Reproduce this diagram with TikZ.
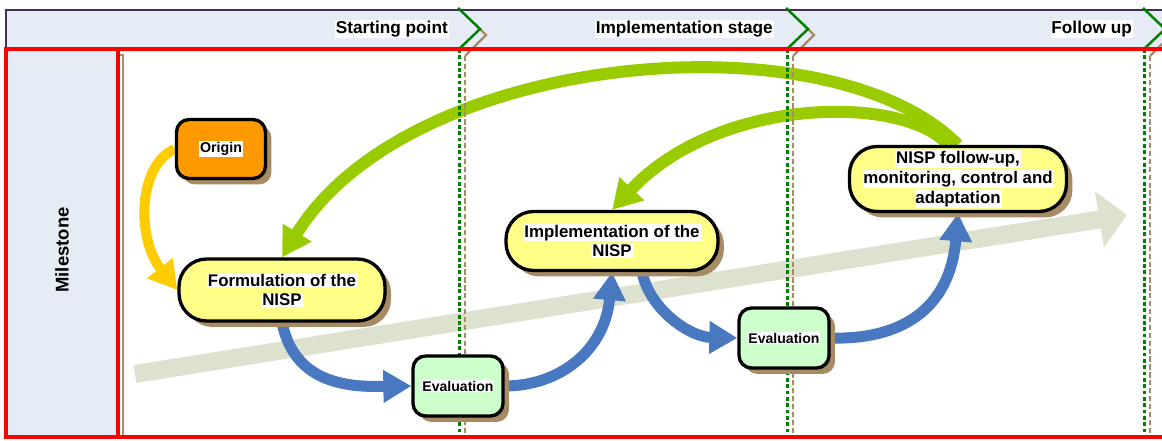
\documentclass[tikz,border=0pt]{standalone}
\usepackage{fontspec}
\setmainfont{Liberation Sans}
\usetikzlibrary{arrows.meta,shadows}

\definecolor{lanefill}{RGB}{230,236,246}
\definecolor{headline}{RGB}{64,49,81}
\definecolor{shadowbrown}{RGB}{166,139,101}
\definecolor{orangefill}{RGB}{255,153,0}
\definecolor{notefill}{RGB}{255,255,136}
\definecolor{evalfill}{RGB}{204,255,204}
\definecolor{loopgreen}{RGB}{153,204,0}
\definecolor{stepblue}{RGB}{72,120,192}
\definecolor{startyellow}{RGB}{255,204,0}
\definecolor{trendgrey}{RGB}{221,226,206}
\definecolor{phasegreen}{RGB}{0,128,0}

\newcommand{\hl}[1]{{\setlength{\fboxsep}{0.5pt}\colorbox{white}{#1}}}

\pgfdeclarelayer{frame}
\pgfdeclarelayer{links}
\pgfdeclarelayer{guides}
\pgfsetlayers{frame,links,guides,main}

\begin{document}
\begin{tikzpicture}[x=0.02cm, y=-0.02cm,
  box/.style={rectangle, draw=black, line width=1.9pt, align=center, inner sep=2pt,
    general shadow={fill=shadowbrown, shadow xshift=3.4pt, shadow yshift=-3.4pt}},
  stagebox/.style={box, fill=notefill, rounded corners=0.55cm, font=\fontsize{9.6}{11.3}\selectfont\bfseries},
  evalbox/.style={box, fill=evalfill, rounded corners=0.25cm, minimum width=1.8cm, minimum height=1.2cm, font=\fontsize{8}{9.6}\selectfont\bfseries},
  originbox/.style={box, fill=orangefill, rounded corners=0.25cm, minimum width=1.78cm, minimum height=1.18cm, font=\fontsize{8.1}{9.6}\selectfont\bfseries},
  phase/.style={anchor=east, inner sep=0pt, font=\fontsize{9.8}{12}\selectfont\bfseries},
  flow/.style={line width=0.22cm, stepblue, -{Triangle[length=0.56cm,width=0.62cm]}},
  feedback/.style={line width=0.24cm, loopgreen, -{Triangle[length=0.58cm,width=0.64cm]}},
  startflow/.style={line width=0.2cm, startyellow, -{Triangle[length=0.56cm,width=0.62cm]}},
  trend/.style={line width=0.36cm, trendgrey, -{Triangle[length=0.56cm,width=1.1cm]}}]

\useasboundingbox (0,0) rectangle (1162,440);

% Header and lane
\begin{pgfonlayer}{frame}
\fill[lanefill] (6,10) rectangle (1162,49);
\draw[headline, line width=1.4pt] (6,49) -- (6,10) -- (1162,10);
\fill[lanefill] (6,49) rectangle (118,437);
\draw[shadowbrown, line width=1pt] (118,55) -- (123,55) -- (123,437);
\end{pgfonlayer}

\node[phase] (hstart) at (449,29) {\hl{Starting point}};
\node[phase] (himpl) at (774,29) {\hl{Implementation stage}};
\node[phase] (hfollow) at (1133,29) {\hl{Follow up}};
\node[rotate=90, font=\fontsize{10.5}{12}\selectfont\bfseries] (lanelabel) at (62,250) {Milestone};

% Stages
\node[originbox] (origin) at (221,149) {\hl{Origin}};
\node[stagebox, minimum width=4.12cm, minimum height=1.24cm] (form) at (282,290) {\hl{Formulation of the}\\\hl{NISP}};
\node[evalbox] (eval1) at (458,386) {\hl{Evaluation}};
\node[stagebox, minimum width=4.24cm, minimum height=1.18cm] (impl) at (612,241) {\hl{Implementation of the}\\\hl{NISP}};
\node[evalbox] (eval2) at (784,338) {\hl{Evaluation}};
\node[stagebox, minimum width=4.34cm, minimum height=1.3cm] (followup) at (958,179) {\hl{NISP follow-up,}\\\hl{monitoring, control and}\\\hl{adaptation}};

% Connectors
\coordinate (trendstart) at (135,374);
\coordinate (trendend) at (1127,215);
\begin{pgfonlayer}{links}
\draw[trend] (trendstart) -- (trendend);
\draw[startflow] (origin.west) .. controls (138,165) and (136,238) .. (form.west);
\draw[flow] (form.south) .. controls (295,385) and (350,387) .. (eval1.west);
\draw[flow] (eval1.east) .. controls (560,386) and (605,350) .. (impl.south);
\draw[flow] ([xshift=0.6cm]impl.south) .. controls (650,310) and (690,337) .. (eval2.west);
\draw[flow] (eval2.east) .. controls (900,340) and (950,310) .. (followup.south);
\draw[feedback] (followup.north) .. controls (830,15) and (410,50) .. (form.north);
\draw[feedback] ([xshift=-0.2cm]followup.north) .. controls (905,95) and (720,95) .. (impl.north);
\end{pgfonlayer}

% Phase markers
\begin{pgfonlayer}{guides}
\foreach \x in {459,787,1144} {
  \draw[shadowbrown, line width=1.3pt] ({\x+16},24) -- ({\x+27},35) -- ({\x+6},56);
  \draw[shadowbrown, line width=1.3pt, dash pattern=on 3pt off 1.5pt] ({\x+6},56) -- ({\x+6},437);
  \draw[phasegreen, line width=1.4pt] ({\x-1},8) -- ({\x+21},29) -- (\x,49);
  \draw[phasegreen, line width=1.7pt, dash pattern=on 2.2pt off 1.4pt] (\x,49) -- (\x,437);
}
\draw[red, line width=2pt] (1162,49) -- (6,49) -- (6,437) -- (1162,437);
\draw[red, line width=2pt] (118,49) -- (118,437);
\end{pgfonlayer}

\end{tikzpicture}
\end{document}
